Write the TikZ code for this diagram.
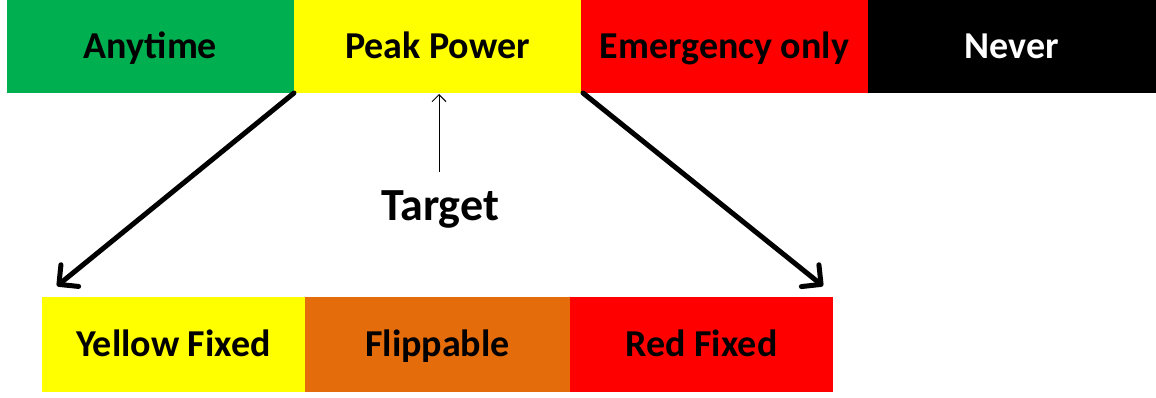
\documentclass[tikz,border=0pt]{standalone}
\usepackage{fontspec}
\setmainfont{Carlito}
\usetikzlibrary{arrows.meta}
\definecolor{bandgreen}{HTML}{00B050}
\definecolor{bandyellow}{HTML}{FFFF00}
\definecolor{bandred}{HTML}{FF0000}
\definecolor{bandorange}{HTML}{E46C0A}
\begin{document}
\begin{tikzpicture}[x=1pt,y=-1pt,
  band/.style={anchor=north west,inner sep=0pt,outer sep=0pt,
    minimum height=93pt,minimum width=287pt,
    text height=32pt,text depth=7pt,
    font=\bfseries\fontsize{38}{42}\selectfont},
  subband/.style={band,minimum height=95pt,text height=32pt,text depth=8pt},
  bigarrow/.style={line width=5pt,line cap=round,
    -{Straight Barb[length=14pt,width=28pt,line width=5pt,line cap=round,line join=round]}},
  thinarrow/.style={line width=1pt,
    -{Straight Barb[length=7pt,width=14pt,line width=1pt]}}]
\useasboundingbox (0,0) rectangle (1156,398);

% top scale of categories
\node[band,fill=bandgreen] (any) at (7,0) {Anytime};
\node[band,fill=bandyellow] (peak) at (294,0) {Peak Power};
\node[band,fill=bandred] (emer) at (581,0) {Emergency only};
\node[band,fill=black,text=white,minimum width=288pt] (never) at (868,0) {Never};

% subdivision of the target band
\node[subband,fill=bandyellow,minimum width=263pt] (yfix) at (42,297) {Yellow Fixed};
\node[subband,fill=bandorange,minimum width=265pt] (flip) at (305,297) {Flippable};
\node[subband,fill=bandred,minimum width=263pt] (rfix) at (570,297) {Red Fixed};

% target marker
\node[font=\bfseries\fontsize{46}{50}\selectfont,inner sep=0pt,anchor=base] (target) at (440,221) {Target};
\coordinate (tgtbase) at (439,172);
\coordinate (tgttip) at (439,94);
\draw[thinarrow] (tgtbase) -- (tgttip);

% expansion arrows
\coordinate (tipL) at (57,286);
\coordinate (tipR) at (823,286);
\draw[bigarrow] (peak.south west) -- (tipL);
\draw[bigarrow] ([xshift=2pt]peak.south east) -- (tipR);
\end{tikzpicture}
\end{document}
